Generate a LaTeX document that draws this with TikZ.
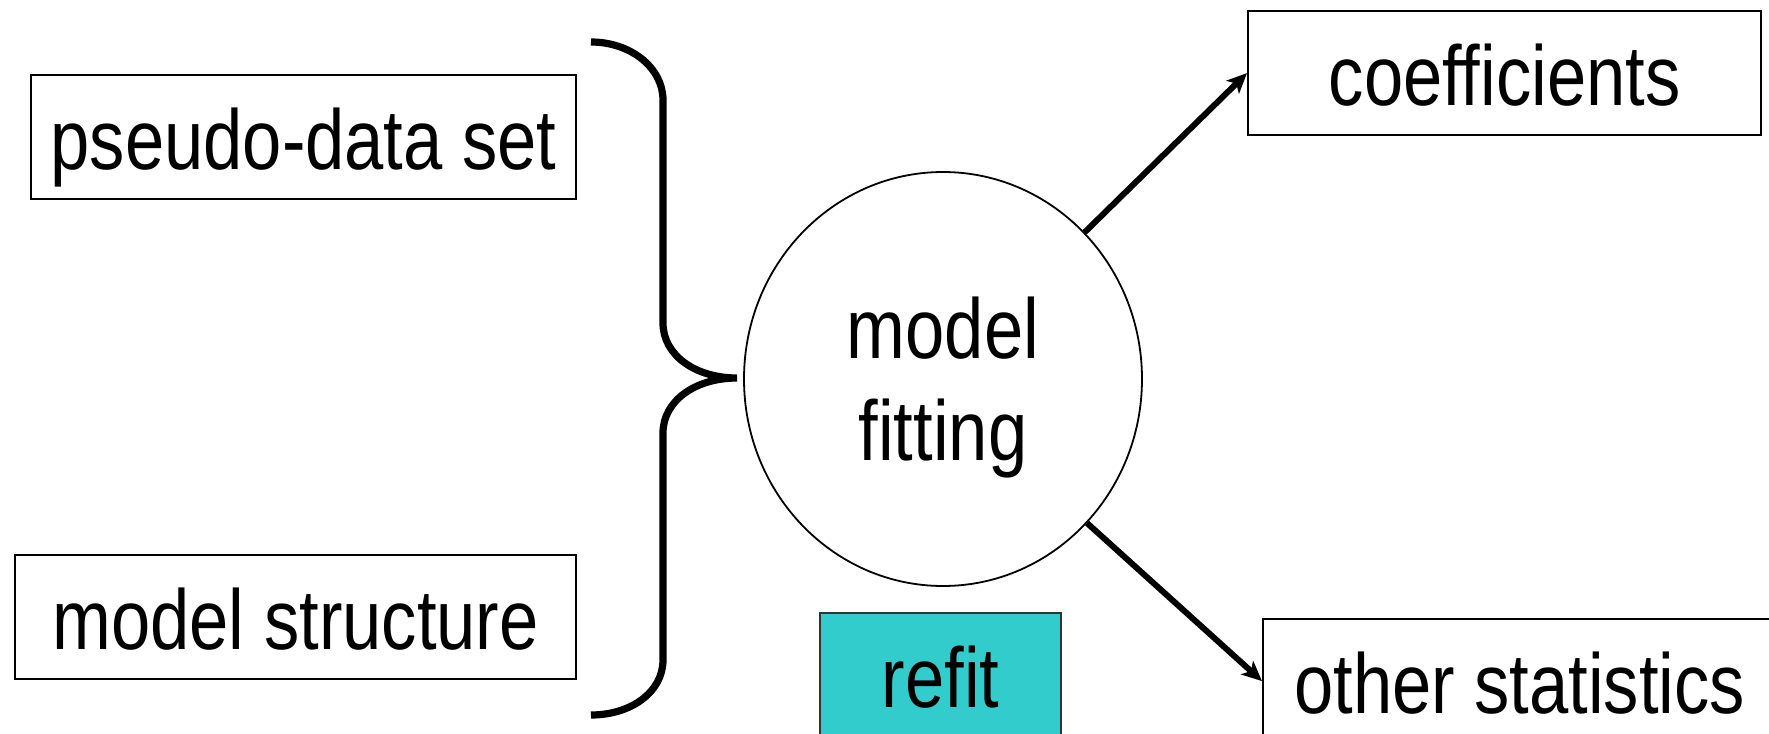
\documentclass[tikz,border=0pt]{standalone}
\usepackage{fontspec}
\newfontfamily\narrowsans[FakeStretch=0.83]{Liberation Sans}
\usetikzlibrary{shapes.geometric,arrows.meta}
\definecolor{refitcyan}{RGB}{51,204,204}
\begin{document}
\begin{tikzpicture}[x=0.5pt,y=-0.5pt,
  lbl/.style={font=\narrowsans\fontsize{42.5pt}{51pt}\selectfont, inner sep=0pt},
  boxnode/.style={lbl, draw=black, line width=1.1pt, anchor=north west,
    minimum height=62pt, text height=47pt, text depth=15pt},
  connarrow/.style={line width=3pt, -{Stealth[length=10pt,width=9pt,inset=2.5pt]}},
  bracepath/.style={line width=3.6pt}]
\useasboundingbox (0,0) rectangle (1769,734);
\begin{scope}
\clip (0,0) rectangle (1769,734);
\fill[white] (0,0) rectangle (1769,734);
\node[boxnode, minimum width=272.5pt] (pseudo) at (30,74) {pseudo-data set};
\node[boxnode, minimum width=280.5pt] (struct) at (14,554) {model structure};
\node[boxnode, minimum width=256.5pt] (coef) at (1247,10) {coefficients};
\node[boxnode, minimum width=256.5pt] (other) at (1262,618) {other statistics};
\node[boxnode, minimum width=120.5pt, fill=refitcyan, draw=black!80, line width=1pt] (refit) at (819,612) {refit};
\node[ellipse, draw=black, line width=0.9pt, minimum width=199pt, minimum height=207pt, inner sep=0pt] (fit) at (943,379) {};
\node[lbl, anchor=base] (fitA) at (943,358) {model};
\node[lbl, anchor=base] (fitB) at (943,460) {fitting};
\draw[connarrow] (fit.46) -- (coef.west);
\draw[connarrow] (fit.-45) -- (other.west);
\coordinate (btop) at (591,42);
\coordinate (btip) at (737,378);
\coordinate (bbot) at (591,715);
\draw[bracepath] (btop) .. controls (631,42) and (663,68) .. (663,100)
  -- (663,323) .. controls (663,355) and (695,378) .. (btip)
  .. controls (695,378) and (663,401) .. (663,433)
  -- (663,660) .. controls (663,692) and (631,715) .. (bbot);
\end{scope}
\end{tikzpicture}
\end{document}
